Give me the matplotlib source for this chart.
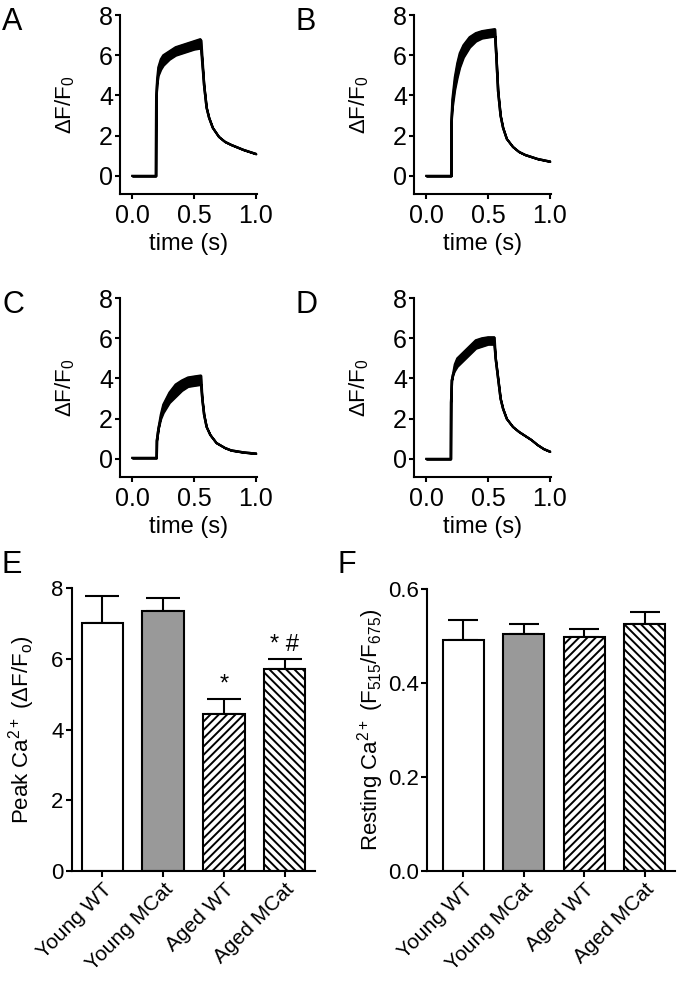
import matplotlib
matplotlib.use("Agg")
import matplotlib.pyplot as plt

plt.rcParams['font.family'] = ['Liberation Sans', 'DejaVu Sans']
plt.rcParams['mathtext.fontset'] = 'custom'
plt.rcParams['mathtext.rm'] = 'Liberation Sans'
plt.rcParams['mathtext.it'] = 'Liberation Sans:italic'
plt.rcParams['hatch.linewidth'] = 1.4

# Ca2+ transients: time, lower and upper edge of the trace
t_a = [0, 0.19, 0.192, 0.2, 0.21, 0.23, 0.25, 0.3, 0.35, 0.4, 0.45, 0.5, 0.55, 0.556, 0.58, 0.6, 0.62, 0.65, 0.7, 0.75, 0.8, 0.9, 1.0]
lo_a = [0, 0, 3.8, 4.6, 5.0, 5.3, 5.5, 5.8, 6.0, 6.1, 6.2, 6.3, 6.35, 6.3, 4.5, 3.4, 2.9, 2.4, 1.95, 1.7, 1.55, 1.3, 1.1]
hi_a = [0, 0, 3.8, 4.8, 5.4, 5.8, 6.0, 6.2, 6.4, 6.5, 6.6, 6.7, 6.8, 6.75, 4.5, 3.4, 2.9, 2.4, 1.95, 1.7, 1.55, 1.3, 1.1]

t_b = [0, 0.2, 0.201, 0.21, 0.23, 0.25, 0.27, 0.3, 0.35, 0.4, 0.45, 0.5, 0.555, 0.565, 0.58, 0.6, 0.62, 0.65, 0.7, 0.75, 0.8, 0.9, 1.0]
lo_b = [0, 0, 2.6, 3.4, 4.3, 4.9, 5.4, 5.9, 6.4, 6.7, 6.85, 6.9, 6.95, 6.0, 4.2, 3.0, 2.4, 1.85, 1.45, 1.2, 1.05, 0.85, 0.72]
hi_b = [0, 0, 2.6, 3.8, 4.9, 5.6, 6.1, 6.5, 6.9, 7.1, 7.2, 7.25, 7.3, 6.0, 4.2, 3.0, 2.4, 1.85, 1.45, 1.2, 1.05, 0.85, 0.72]

t_c = [0, 0.195, 0.197, 0.21, 0.23, 0.25, 0.3, 0.35, 0.4, 0.45, 0.5, 0.555, 0.565, 0.58, 0.6, 0.63, 0.68, 0.75, 0.8, 0.9, 1.0]
lo_c = [0.05, 0.05, 0.9, 1.5, 2.0, 2.3, 2.8, 3.1, 3.4, 3.6, 3.65, 3.7, 3.0, 2.2, 1.6, 1.2, 0.8, 0.55, 0.43, 0.33, 0.27]
hi_c = [0.05, 0.05, 0.9, 1.5, 2.2, 2.7, 3.3, 3.7, 3.9, 4.05, 4.1, 4.15, 3.0, 2.2, 1.6, 1.2, 0.8, 0.55, 0.43, 0.33, 0.27]

t_d = [0, 0.197, 0.199, 0.205, 0.215, 0.23, 0.25, 0.3, 0.35, 0.4, 0.45, 0.5, 0.55, 0.56, 0.58, 0.6, 0.62, 0.65, 0.7, 0.75, 0.8, 0.85, 0.9, 0.95, 1.0]
lo_d = [0, 0, 2.8, 3.9, 4.2, 4.4, 4.6, 4.9, 5.2, 5.5, 5.6, 5.7, 5.7, 5.0, 4.0, 3.0, 2.5, 2.0, 1.6, 1.35, 1.15, 0.95, 0.7, 0.5, 0.37]
hi_d = [0, 0, 2.8, 3.9, 4.2, 4.7, 5.0, 5.3, 5.6, 5.9, 6.0, 6.05, 6.05, 5.0, 4.0, 3.0, 2.5, 2.0, 1.6, 1.35, 1.15, 0.95, 0.7, 0.5, 0.37]

# summary bars
groups = ["Young WT", "Young MCat", "Aged WT", "Aged MCat"]
peak = [7.02, 7.36, 4.43, 5.70]
peak_err = [0.75, 0.37, 0.43, 0.29]
peak_marks = ["", "", "*", "* #"]
rest = [0.492, 0.504, 0.498, 0.525]
rest_err = [0.042, 0.021, 0.017, 0.027]

fills = ["white", "#999999", "white", "white"]
hatches = [None, None, "////", "\\\\\\\\"]

W, H = 680, 982
fig = plt.figure(figsize=(W / 100, H / 100), dpi=100)


def add_ax(left, top, right, bottom):
    return fig.add_axes([left / W, 1 - bottom / H, (right - left) / W, (bottom - top) / H])


def style(ax, ticklen):
    for s in ["top", "right"]:
        ax.spines[s].set_visible(False)
    for s in ["left", "bottom"]:
        ax.spines[s].set_linewidth(1.5)
    ax.tick_params(width=1.5, length=ticklen, pad=1.5)


traces = [(t_a, lo_a, hi_a, "A", 120, 15),
          (t_b, lo_b, hi_b, "B", 414, 15),
          (t_c, lo_c, hi_c, "C", 120, 298),
          (t_d, lo_d, hi_d, "D", 414, 298)]

for t, lo, hi, letter, left, top in traces:
    ax = add_ax(left, top, left + 137, top + 179)
    ax.fill_between(t, lo, hi, color="black", lw=1.5)
    ax.plot(t, lo, color="black", lw=1.5)
    ax.plot(t, hi, color="black", lw=1.5)
    ax.set_xlim(-0.1, 1.01)
    ax.set_ylim(-0.9, 8)
    ax.set_yticks([0, 2, 4, 6, 8])
    ax.set_xticks([0, 0.5, 1.0])
    ax.set_xticklabels(["0.0", "0.5", "1.0"])
    style(ax, 3.5)
    ax.tick_params(axis="x", pad=4)
    ax.tick_params(labelsize=18)
    ax.set_xlabel("time (s)", fontsize=17, labelpad=3)
    ax.set_ylabel("ΔF/F$_0$", fontsize=16, labelpad=16)
    fig.text((left - 118) / W, 1 - (top - 8) / H, letter, fontsize=22, va="top", ha="left")


def bar_panel(left, top, right, bottom, vals, errs, ylim, yticks, fmt, xlim, capsize,
              ylabel, ypad, letter, letter_x):
    ax = add_ax(left, top, right, bottom)
    x = range(len(groups))
    ax.bar(x, vals, width=0.68, color=fills, edgecolor="black", linewidth=1.5,
           hatch=hatches, zorder=2)
    ax.errorbar(x, vals, yerr=[[0] * len(errs), errs], fmt="none", ecolor="black",
                elinewidth=1.5, capsize=capsize, capthick=1.5, zorder=1)
    ax.set_xlim(*xlim)
    ax.set_ylim(*ylim)
    ax.set_yticks(yticks)
    ax.set_yticklabels([fmt.format(v) for v in yticks])
    ax.set_xticks(list(x))
    ax.set_xticklabels(groups, rotation=45, ha="right", rotation_mode="anchor")
    style(ax, 4.5)
    ax.tick_params(axis="y", labelsize=16)
    ax.tick_params(axis="x", labelsize=15, pad=2)
    ax.set_ylabel(ylabel, fontsize=16, labelpad=ypad)
    fig.text(letter_x / W, 1 - 550 / H, letter, fontsize=22, va="top", ha="left")
    return ax


ax_e = bar_panel(72, 588, 315, 871, peak, peak_err, (0, 8), [0, 2, 4, 6, 8], "{:g}",
                 (-0.5, 3.5), 12, "Peak Ca$^{2+}$ (ΔF/F$_\\mathrm{o}$)", 10, "E", 2)
for i, m in enumerate(peak_marks):
    if m:
        ax_e.text(i, peak[i] + peak_err[i] + 0.1, m, ha="center", va="bottom", fontsize=17)

bar_panel(427, 589, 675, 871, rest, rest_err, (0, 0.6), [0.0, 0.2, 0.4, 0.6], "{:.1f}",
          (-0.6, 3.5), 11, "Resting Ca$^{2+}$ (F$_{515}$/F$_{675}$)", 1, "F", 338)

fig.savefig("out.png", dpi=100)
